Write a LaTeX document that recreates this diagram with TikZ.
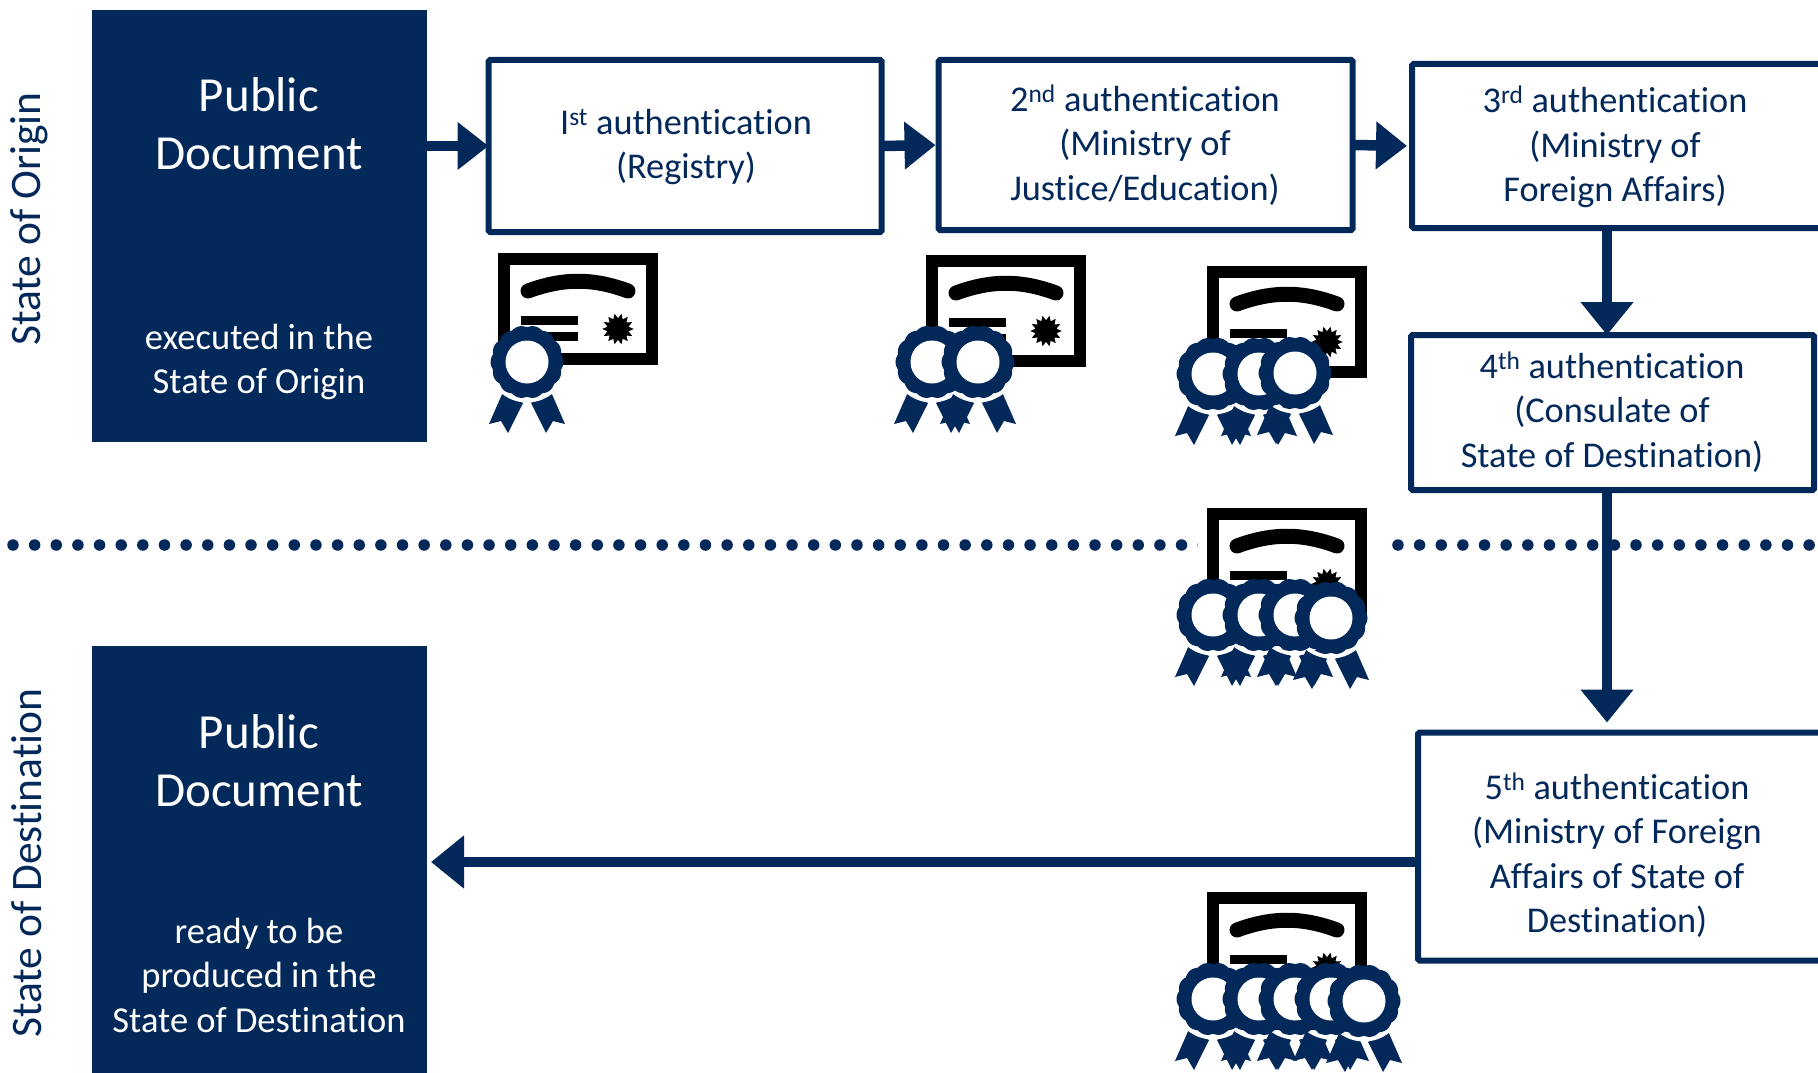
\documentclass[tikz,border=0pt]{standalone}
\usepackage{fontspec}
\setmainfont{Carlito}[Ligatures=NoCommon]
\usetikzlibrary{arrows.meta}
\definecolor{navy}{HTML}{03285A}
\tikzset{
  docbox/.style={fill=navy,draw=none,inner sep=0pt,outer sep=0pt},
  authbox/.style={draw=navy,line width=6pt,fill=white,inner sep=0pt,outer sep=0pt,rounded corners=1.5pt},
  bigwhite/.style={text=white,align=center,inner sep=0pt,font=\fontsize{49}{58}\selectfont},
  smallwhite/.style={text=white,align=center,inner sep=0pt,font=\fontsize{36.5}{44.5}\selectfont},
  authtext/.style={text=navy,align=center,inner sep=0pt,font=\fontsize{36.3}{44.5}\selectfont},
  sidetext/.style={text=navy,rotate=90,inner sep=0pt,font=\fontsize{43.5}{50}\selectfont},
  hconn/.style={draw=navy,line width=10.5pt,-{Triangle[width=46pt,length=31pt]}},
  vconn/.style={draw=navy,line width=10.5pt,-{Triangle[width=51pt,length=33pt]}},
}
\newcommand{\certicon}[2]{%
  \begin{scope}[shift={(#1,#2)}]
    \draw[black,line width=12pt,fill=white,miter limit=10] (6,6) rectangle (154,106);
    \draw[black,line width=15pt,line cap=round] (30,38) .. controls (65,25) and (95,25) .. (130,38);
    \fill[black] (23,63) rectangle (80,72);
    \fill[black] (23,79) rectangle (80,88);
    \fill[black,shift={(120,76)}] plot[domain=0:360,samples=29] (\x:{13.2+2.4*cos(14*\x)}) -- cycle;
  \end{scope}}
\newcommand{\ribbonpair}[2]{%
  \begin{scope}[shift={(#1,#2)}]
    \fill[navy] (-24,30) -- (-4,41) -- (-19,71) -- (-26,59) -- (-38,62) -- cycle;
    \fill[navy] (24,30) -- (4,41) -- (19,71) -- (26,59) -- (38,62) -- cycle;
    \draw[white,line width=4pt] (32:38.5) arc (32:148:38.5);
  \end{scope}}
\newcommand{\medalhead}[2]{%
  \begin{scope}[shift={(#1,#2)}]
    \fill[navy] plot[domain=0:360,samples=113] (\x:{34.8+1.7*abs(cos(7*\x))}) -- cycle;
    \fill[white] (0,0) circle (21.5);
  \end{scope}}
\begin{document}
\begin{tikzpicture}[x=1pt,y=-1pt]
\useasboundingbox (0,0) rectangle (1818,1073);
\clip (0,0) rectangle (1818,1073);
% dotted border
\coordinate (dotl) at (13,545);
\coordinate (dotr) at (1818,545);
\draw[navy,line width=11.5pt,line cap=round,dash pattern=on 0pt off 21.64pt] (dotl) -- (dotr);
\fill[white] (1198,525) rectangle (1389,565);
% dark boxes
\node[docbox,minimum width=335pt,minimum height=432pt] (doc1) at (259.5,226) {};
\node[docbox,minimum width=335pt,minimum height=427pt] (doc2) at (259.5,859.5) {};
\node[bigwhite] (doc1t) at (259,124) {Public\\Document};
\node[smallwhite] (doc1s) at (259,362) {executed in the\\State of Origin};
\node[bigwhite] (doc2t) at (259,761) {Public\\Document};
\node[smallwhite] (doc2s) at (259,975) {ready to be\\produced in the\\State of Destination};
% side labels
\node[sidetext] (origin) at (29,219) {State of Origin};
\node[sidetext] (dest) at (27,863) {State of Destination};
% boxes
\node[authbox,minimum width=393pt,minimum height=172pt] (box1) at (685,146) {};
\node[authbox,minimum width=414pt,minimum height=170pt] (box2) at (1145.5,145) {};
\node[authbox,minimum width=420pt,minimum height=164pt] (box3) at (1622,146) {};
\node[authbox,minimum width=403pt,minimum height=155pt] (box4) at (1612.5,412.5) {};
\node[authbox,minimum width=420pt,minimum height=228pt] (box5) at (1628,846.5) {};
\node[authtext] (box1t) at (686,147) {I\textsuperscript{st} authentication\\(Registry)};
\node[authtext] (box2t) at (1145,145) {2\textsuperscript{nd} authentication\\(Ministry of\\Justice/Education)};
\node[authtext] (box3t) at (1615,147) {3\textsuperscript{rd} authentication\\(Ministry of\\Foreign Affairs)};
\node[authtext] (box4t) at (1612,412) {4\textsuperscript{th} authentication\\(Consulate of\\State of Destination)};
\node[authtext] (box5t) at (1617,855) {5\textsuperscript{th} authentication\\(Ministry of Foreign\\Affairs of State of\\Destination)};
% connectors
\coordinate (vline) at (1607,0);
\coordinate (hline) at (0,862);
\draw[hconn] (doc1.east |- box1.west) -- (box1.west);
\draw[hconn,shorten >=3pt] (box1.east) -- (box2.west);
\draw[hconn,shorten >=5pt] (box2.east) -- (box3.west);
\draw[vconn] (vline |- box3.south) -- (vline |- box4.north);
\draw[vconn,shorten >=10pt] (vline |- box4.south) -- (vline |- box5.north);
\draw[vconn] (box5.west |- hline) -- ([xshift=4pt]doc2.east |- hline);
% icons
\certicon{498}{253}
\ribbonpair{527}{362}
\medalhead{527}{362}
\certicon{926}{255}
\ribbonpair{932}{362}\ribbonpair{978}{362}
\medalhead{932}{362}\medalhead{978}{362}
\certicon{1207}{266}
\ribbonpair{1213}{374}\ribbonpair{1259}{374}\ribbonpair{1295}{373}
\medalhead{1213}{374}\medalhead{1259}{374}\medalhead{1295}{373}
\certicon{1207}{508}
\ribbonpair{1213}{615}\ribbonpair{1259}{615}\ribbonpair{1295}{615}\ribbonpair{1331}{618}
\medalhead{1213}{615}\medalhead{1259}{615}\medalhead{1295}{615}\medalhead{1331}{618}
\certicon{1207}{892}
\ribbonpair{1213}{999}\ribbonpair{1259}{999}\ribbonpair{1295}{999}\ribbonpair{1331}{999}\ribbonpair{1364}{1001}
\medalhead{1213}{999}\medalhead{1259}{999}\medalhead{1295}{999}\medalhead{1331}{999}\medalhead{1364}{1001}
\end{tikzpicture}
\end{document}
